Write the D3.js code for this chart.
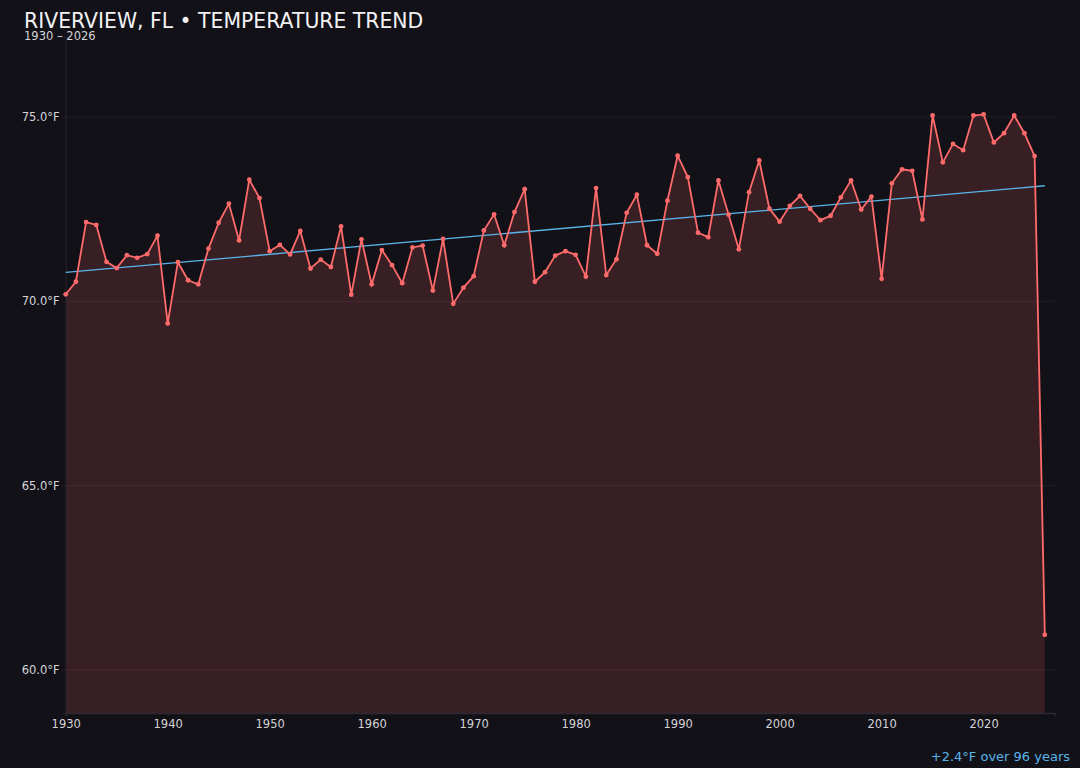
<!DOCTYPE html>
<html lang="en">
<head>
    <meta charset="utf-8">
    <title>Riverview Temperature Trend</title>
    <script src="https://d3js.org/d3.v7.min.js"></script>
    <style>
        body { margin: 0; background: #121117; }
        text { font-family: 'DejaVu Sans', sans-serif; }
    </style>
</head>

<body>
    <svg width="1080" height="768" id="mainsvg"></svg>

    <script>
        // annual mean temps
        const years = d3.range(1930, 2027)
        const temps = [
            70.19, 70.53, 72.15, 72.07, 71.07, 70.90, 71.25, 71.18, 71.28, 71.78,
            69.40, 71.06, 70.57, 70.46, 71.43, 72.13, 72.65, 71.65, 73.30, 72.80,
            71.36, 71.53, 71.27, 71.91, 70.89, 71.13, 70.93, 72.03, 70.18, 71.68,
            70.46, 71.39, 70.98, 70.49, 71.46, 71.51, 70.29, 71.69, 69.93, 70.37,
            70.68, 71.92, 72.36, 71.52, 72.42, 73.04, 70.53, 70.79, 71.24, 71.36,
            71.26, 70.67, 73.07, 70.71, 71.14, 72.40, 72.89, 71.52, 71.29, 72.73,
            73.95, 73.37, 71.86, 71.74, 73.28, 72.35, 71.41, 72.96, 73.82, 72.51,
            72.16, 72.59, 72.86, 72.51, 72.20, 72.32, 72.82, 73.28, 72.49, 72.84,
            70.61, 73.20, 73.58, 73.54, 72.22, 75.04, 73.77, 74.27, 74.10, 75.04,
            75.07, 74.31, 74.56, 75.04, 74.56, 73.94, 60.95
        ]
        const yTicks = [60, 65, 70, 75]
        const xTicks = [1930, 1940, 1950, 1960, 1970, 1980, 1990, 2000, 2010, 2020]

        const titleText = 'RIVERVIEW, FL \u2022 TEMPERATURE TREND'
        const subtitleText = '1930 \u2013 2026'

        const svg = d3.select('#mainsvg')
        const width = +svg.attr('width')
        const height = +svg.attr('height')
        const margin = {top: 37, right: 25, bottom: 55, left: 65.7}

        const data = years.map((y, i) => ({year: y, temp: temps[i]}))

        const xScale = d3.scaleLinear()
            .domain([1930, 2027])
            .range([margin.left, width - margin.right])
        const yScale = d3.scaleLinear()
            .domain([58.83, 77.17])
            .range([height - margin.bottom, margin.top])

        svg.append('rect').attr('width', width).attr('height', height).attr('fill', '#121117')

        // grid
        svg.append('g').selectAll('line').data(yTicks).join('line')
            .attr('x1', margin.left).attr('x2', width - margin.right)
            .attr('y1', d => yScale(d)).attr('y2', d => yScale(d))
            .attr('stroke', '#221f27').attr('stroke-width', 1)

        // area + line
        const area = d3.area()
            .x(d => xScale(d.year))
            .y0(height - margin.bottom)
            .y1(d => yScale(d.temp))
        svg.append('path').datum(data)
            .attr('d', area)
            .attr('fill', '#ff6b6b').attr('fill-opacity', 0.16)

        // y axis
        const yAxis = d3.axisLeft(yScale).tickValues(yTicks)
            .tickFormat(d => d.toFixed(1) + '\u00b0F').tickSize(3).tickPadding(3)
        const yAxisGroup = svg.append('g')
            .attr('transform', `translate(${margin.left}, 0)`)
            .call(yAxis)
        yAxisGroup.select('.domain').attr('stroke', '#26242c')
        yAxisGroup.selectAll('.tick line').attr('stroke', '#2c2a32')
        yAxisGroup.selectAll('.tick text').attr('fill', '#d4d4d8').attr('font-size', '11.5px')

        // x axis
        const xAxis = d3.axisBottom(xScale).tickValues(xTicks)
            .tickFormat(d3.format('d')).tickSize(3).tickPadding(4)
        const xAxisGroup = svg.append('g')
            .attr('transform', `translate(0, ${height - margin.bottom})`)
            .call(xAxis)
        xAxisGroup.select('.domain').attr('stroke', '#2c2a32').attr('stroke-width', 1.5)
        xAxisGroup.selectAll('.tick line').attr('stroke', '#2c2a32')
        xAxisGroup.selectAll('.tick text').attr('fill', '#d4d4d8').attr('font-size', '11.5px')

        // least squares trend
        const mx = d3.mean(data, d => d.year)
        const my = d3.mean(data, d => d.temp)
        const slope = d3.sum(data, d => (d.year - mx) * (d.temp - my)) /
            d3.sum(data, d => (d.year - mx) ** 2)
        const trend = [1930, 2026].map(y => ({year: y, temp: my + slope * (y - mx)}))
        svg.append('path').datum(trend)
            .attr('d', d3.line().x(d => xScale(d.year)).y(d => yScale(d.temp)))
            .attr('stroke', '#5ab4ea').attr('stroke-width', 1.3).attr('fill', 'none')

        svg.append('path').datum(data)
            .attr('d', d3.line().x(d => xScale(d.year)).y(d => yScale(d.temp)))
            .attr('stroke', '#ff6b6b').attr('stroke-width', 1.8).attr('fill', 'none')
        svg.append('g').selectAll('circle').data(data).join('circle')
            .attr('cx', d => xScale(d.year))
            .attr('cy', d => yScale(d.temp))
            .attr('r', 2.4)
            .attr('fill', '#ff6b6b')

        // titles
        svg.append('text').text(titleText)
            .attr('x', 24).attr('y', 28)
            .attr('fill', '#f2f2f4').attr('font-size', '20.4px')
        svg.append('text').text(subtitleText)
            .attr('x', 24).attr('y', 39.5)
            .attr('fill', '#d4d4d8').attr('font-size', '11.5px')

        const change = trend[1].temp - trend[0].temp
        svg.append('text')
            .text(`${change >= 0 ? '+' : ''}${change.toFixed(1)}\u00b0F over ${2026 - 1930} years`)
            .attr('x', 1070).attr('y', 761)
            .attr('text-anchor', 'end')
            .attr('fill', '#5ab4ea').attr('font-size', '13px')
    </script>
</body>
</html>
